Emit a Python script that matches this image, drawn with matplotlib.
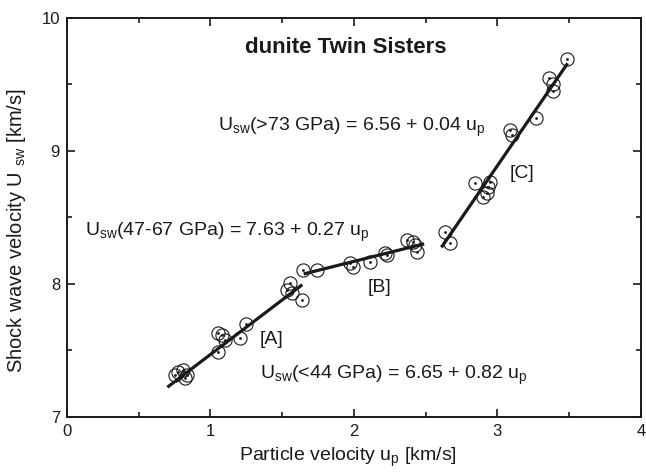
import matplotlib
matplotlib.use("Agg")
import matplotlib.pyplot as plt
import numpy as np
from matplotlib.ticker import MultipleLocator

plt.rcParams['font.family'] = ['Liberation Sans', 'DejaVu Sans']
plt.rcParams['mathtext.default'] = 'regular'

# Data (particle velocity up, shock velocity Us), km/s
up_A = [0.753, 0.776, 0.810, 0.822, 0.834, 1.054, 1.054, 1.078, 1.101, 1.206, 1.247, 1.531, 1.554, 1.566, 1.635]
us_A = [7.316, 7.341, 7.353, 7.291, 7.316, 7.629, 7.491, 7.617, 7.579, 7.592, 7.699, 7.955, 8.005, 7.930, 7.880]

up_B = [1.647, 1.740, 1.972, 1.995, 2.111, 2.216, 2.228, 2.367, 2.413, 2.425, 2.437]
us_B = [8.105, 8.105, 8.156, 8.130, 8.168, 8.231, 8.218, 8.331, 8.318, 8.293, 8.243]

up_C = [2.634, 2.669, 2.843, 2.901, 2.925, 2.936, 2.948, 3.09, 3.10, 3.27, 3.36, 3.39, 3.39, 3.482]
us_C = [8.393, 8.31, 8.757, 8.656, 8.682, 8.732, 8.769, 9.16, 9.12, 9.25, 9.55, 9.50, 9.45, 9.689]

# Linear fits: (intercept, slope, up_start, up_end)
fit_A = (6.65, 0.82, 0.70, 1.64)
fit_B = (7.63, 0.27, 1.65, 2.49)
fit_C = (4.17, 1.573, 2.61, 3.49)

col = '#1a1a1a'
fig = plt.figure(figsize=(6.46, 4.73), dpi=100)
ax = fig.add_axes([0.1037, 0.1184, 0.8883, 0.8436])

for up, us in [(up_A, us_A), (up_B, us_B), (up_C, us_C)]:
    ax.plot(up, us, linestyle='none', marker='o', markersize=9.5,
            markerfacecolor='none', markeredgecolor=col, markeredgewidth=0.8)
    ax.plot(up, us, linestyle='none', marker='.', markersize=2, color=col)

for a, b, x0, x1 in [fit_A, fit_B, fit_C]:
    xs = np.array([x0, x1])
    ax.plot(xs, a + b * xs, color=col, lw=2.3, solid_capstyle='butt')

ax.set_xlim(0, 4)
ax.set_ylim(7, 10)
ax.xaxis.set_major_locator(MultipleLocator(1))
ax.xaxis.set_minor_locator(MultipleLocator(0.5))
ax.yaxis.set_major_locator(MultipleLocator(1))
ax.yaxis.set_minor_locator(MultipleLocator(0.5))
ax.tick_params(which='both', direction='in', top=True, right=True,
               labelsize=12, colors=col, width=1.2)
ax.tick_params(which='major', length=6, pad=5)
ax.tick_params(which='minor', length=3.5)
for s in ax.spines.values():
    s.set_linewidth(1.4)
    s.set_color(col)

ax.set_xlabel(r'Particle velocity u$_{p}$ [km/s]', fontsize=14, color=col)
ax.xaxis.set_label_coords(0.49, -0.072)
ax.set_ylabel(r'Shock wave velocity U $_{sw}$ [km/s]', fontsize=14.5, color=col)
ax.yaxis.set_label_coords(-0.068, 0.466)

fs = 14
ax.text(1.944, 9.78, 'dunite Twin Sisters', fontsize=16, fontweight='bold',
        ha='center', va='center', color=col)
ax.text(1.05, 9.18, r'U$_{sw}$(>73 GPa) = 6.56 + 0.04 u$_{p}$', fontsize=fs,
        ha='left', va='center', color=col)
ax.text(0.125, 8.39, r'U$_{sw}$(47-67 GPa) = 7.63 + 0.27 u$_{p}$', fontsize=fs,
        ha='left', va='center', color=col)
ax.text(1.345, 7.316, r'U$_{sw}$(<44 GPa) = 6.65 + 0.82 u$_{p}$', fontsize=fs,
        ha='left', va='center', color=col)
ax.text(1.345, 7.58, '[A]', fontsize=fs, ha='left', va='center', color=col)
ax.text(2.098, 7.977, '[B]', fontsize=fs, ha='left', va='center', color=col)
ax.text(3.087, 8.83, '[C]', fontsize=fs, ha='left', va='center', color=col)

fig.savefig('out.png', dpi=100)
